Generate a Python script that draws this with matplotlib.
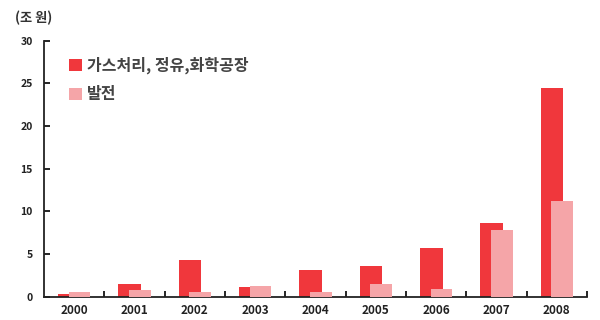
import numpy as np
import matplotlib.pyplot as plt

plt.rcParams['font.family'] = ['Noto Sans CJK KR', 'DejaVu Sans']

years = ['2000', '2001', '2002', '2003', '2004', '2005', '2006', '2007', '2008']
plant = [0.3, 1.5, 4.3, 1.1, 3.1, 3.6, 5.7, 8.6, 24.5]   # 가스처리, 정유, 화학공장
power = [0.5, 0.8, 0.5, 1.3, 0.5, 1.45, 0.95, 7.8, 11.25]  # 발전

x = np.arange(len(years))
fig = plt.figure(figsize=(6, 3.2), dpi=100)
ax = fig.add_axes([0.0733, 0.073, 0.905, 0.8])

ax.bar(x - 0.08, plant, width=0.38, color='#f0373c', edgecolor='none', zorder=2,
       label='가스처리, 정유,화학공장')
ax.bar(x + 0.09, power, width=0.36, color='#f5a5a8', edgecolor='none', zorder=3,
       label='발전')

ax.set_xlim(-0.5, len(years) - 0.5)
ax.set_ylim(0, 30)
ax.set_yticks(range(0, 31, 5))
ax.set_xticks(x)
ax.set_xticklabels(years, fontsize=8.5, fontweight='bold', color='#222222')
ax.set_xticks(np.arange(0.5, len(years), 1), minor=True)
ax.tick_params(axis='x', which='major', length=0, pad=5)
ax.tick_params(axis='x', which='minor', length=4, direction='in', width=1.2)
ax.tick_params(axis='y', length=4, direction='in', width=1.2, labelsize=7.5,
               labelcolor='#222222', pad=8)
for lab in ax.get_yticklabels():
    lab.set_fontweight('bold')

for s in ['top', 'right']:
    ax.spines[s].set_visible(False)
for s in ['left', 'bottom']:
    ax.spines[s].set_linewidth(1.3)
    ax.spines[s].set_color('#222222')

fig.text(0.025, 0.944, '(조 원)', fontsize=9.5, fontweight='bold', color='#333333',
         va='center')

leg = ax.legend(loc='upper left', bbox_to_anchor=(0.02, 0.995), frameon=False,
                handlelength=0.8, handleheight=0.8, handletextpad=0.3,
                labelspacing=0.8, prop={'weight': 'bold', 'size': 11.5})
for t in leg.get_texts():
    t.set_color('#444444')

fig.savefig('out.png', dpi=100)
